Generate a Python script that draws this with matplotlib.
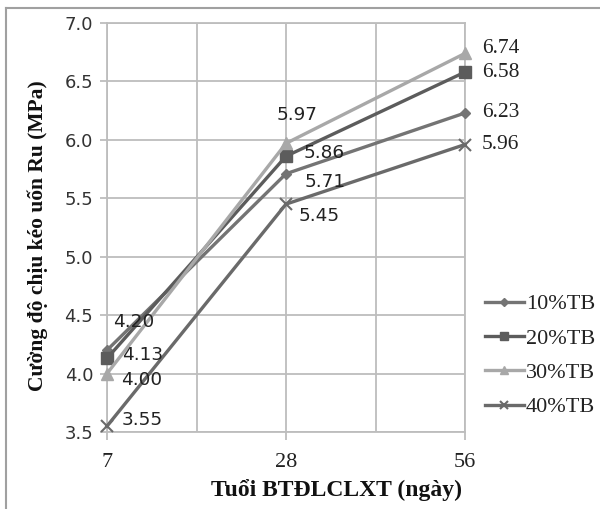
import matplotlib
matplotlib.use("Agg")
import matplotlib.pyplot as plt
from matplotlib.lines import Line2D

categories = ["7", "28", "56"]
series_names = ["10%TB", "20%TB", "30%TB", "40%TB"]
s10 = [4.20, 5.71, 6.23]
s20 = [4.13, 5.86, 6.58]
s30 = [4.00, 5.97, 6.74]
s40 = [3.55, 5.45, 5.96]
y_ticks = [3.5, 4.0, 4.5, 5.0, 5.5, 6.0, 6.5, 7.0]
x_title = "Tuổi BTĐLCLXT (ngày)"
y_title = "Cường độ chịu kéo uốn Ru (MPa)"

series = [s10, s20, s30, s40]
colors = ["#747474", "#5c5c5c", "#a8a8a8", "#6a6a6a"]
markers = ["D", "s", "^", "x"]
msizes = [5.5, 8, 8, 8]
# label offsets in pixels for each series at each category
offsets = [
    [(6, 28), (19, -8), (17, 0)],
    [(15, 3), (18, 3), (17, 0)],
    [(14, -6), (-9, 28), (17, 5)],
    [(15, 6), (13, -12), (17, 0)],
]

SERIF = "Liberation Serif"
SANS = "DejaVu Sans"

fig = plt.figure(figsize=(6.0, 5.09), dpi=100)
ax = fig.add_axes([107/600, 1-432/509, (465-107)/600, (432-23)/509])

xs = list(range(len(categories)))
grid_c = "#bdbdbd"
for v in [0, 0.5, 1, 1.5, 2]:
    ax.axvline(v, color=grid_c, lw=1.3, zorder=0)
for v in y_ticks:
    ax.axhline(v, color=grid_c, lw=1.3, zorder=0)

for i, (vals, name) in enumerate(zip(series, series_names)):
    ax.plot(xs, vals, color=colors[i], lw=2.4, marker=markers[i], ms=msizes[i],
            mew=1.5 if markers[i] == "x" else 1, label=name, clip_on=False, zorder=3)
    for j, v in enumerate(vals):
        fam = SERIF if j == 2 else SANS
        fs = 15.5 if j == 2 else 13.3
        ax.annotate(f"{v:.2f}", xy=(xs[j], v), xytext=offsets[i][j],
                    textcoords="offset pixels", ha="left", va="center",
                    fontsize=fs, family=fam, color="#222222", zorder=4)

ax.set_xlim(0, 2)
ax.set_ylim(3.5, 7.0)
ax.set_xticks(xs)
ax.set_xticklabels(categories, family=SERIF, fontsize=16, color="#222222")
ax.set_yticks(y_ticks)
ax.set_yticklabels([f"{t:.1f}" for t in y_ticks], family=SANS, fontsize=13, color="#333333")
ax.tick_params(axis="x", length=6, color=grid_c, width=1.3, pad=9)
ax.tick_params(axis="y", length=5, color=grid_c, width=1.3, pad=5)
for s in ax.spines.values():
    s.set_color(grid_c)
    s.set_linewidth(1.3)

fig.text(336/600, 1-490/509, x_title, ha="center", va="center", family=SERIF,
         fontweight="bold", fontsize=17, color="#111111")
fig.text(38/600, 1-236/509, y_title, ha="center", va="center", rotation=90,
         family=SERIF, fontweight="bold", fontsize=15.5, color="#111111")

leg = fig.legend(loc="center left", bbox_to_anchor=(485/600, 1-355.5/509),
                 frameon=False, prop={"family": SERIF, "size": 16},
                 handlelength=1.75, handletextpad=0.1, labelspacing=0.62,
                 borderpad=0, borderaxespad=0, markerscale=0.7)
for t in leg.get_texts():
    t.set_color("#222222")

# outer chart frame
fig.add_artist(Line2D([6/600, 6/600], [0, 1-8/509], color="#a0a0a0", lw=1.5,
                      transform=fig.transFigure))
fig.add_artist(Line2D([6/600, 1], [1-8/509, 1-8/509], color="#a0a0a0", lw=1.5,
                      transform=fig.transFigure))

fig.savefig("out.png", dpi=100, facecolor="white")
